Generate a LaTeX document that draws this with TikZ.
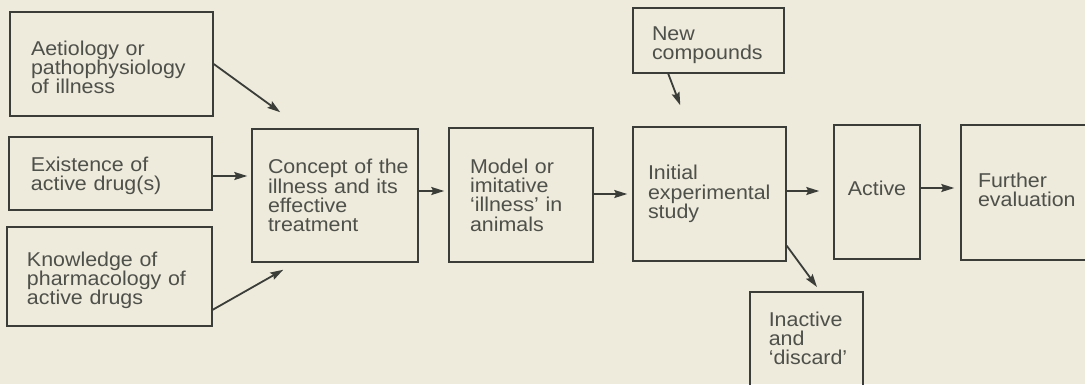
\documentclass[tikz,border=0pt]{standalone}
\usepackage{fontspec}
\setmainfont{Liberation Sans}[FakeStretch=1.07]
\usetikzlibrary{arrows.meta,calc}
\definecolor{bgc}{HTML}{EEEADC}
\definecolor{linec}{HTML}{3A3D38}
\definecolor{txtc}{HTML}{4E504A}
\newcommand\lsk[1]{\leftskip=#1pt\relax}
\begin{document}
\begin{tikzpicture}[x=1pt,y=-1pt,
  bx/.style 2 args={draw=linec, line width=1.5pt, text=txtc,
    font=\fontsize{20}{19.3}\selectfont, minimum width=#1, minimum height=#2,
    text width=#1, inner xsep=0pt, inner ysep=0pt, align=left},
  arr/.style={draw=linec, line width=1.8pt, -{Stealth[length=13pt,width=8pt,inset=2pt]}}]
\fill[bgc] (0,0) rectangle (1085,384);
\useasboundingbox (0,0) rectangle (1085,384);
\clip (0,0) rectangle (1085,384);
% boxes
\node[bx={203pt}{104pt}, text height=21.5pt] (aet) at (111.5,64) {\lsk{21}Aetiology or\\pathophysiology\\of illness\par};
\node[bx={203pt}{73pt}, text height=18.6pt] (exist) at (110.5,173.5) {\lsk{22}Existence of\\active drug(s)\par};
\node[bx={205pt}{99pt}, text height=22.5pt] (know) at (109.5,276.5) {\lsk{20}Knowledge of\\pharmacology of\\active drugs\par};
\node[bx={166pt}{133pt}] (concept) at (335,195.5) {\lsk{16}Concept of the\\illness and its\\effective\\treatment\par};
\node[bx={144pt}{134pt}] (model) at (521,195) {\lsk{21}Model or\\imitative\\`illness' in\\animals\par};
\node[bx={151pt}{65pt}, text height=23.5pt] (newc) at (708.5,40.5) {\lsk{19}New\\compounds\par};
\node[bx={153pt}{134pt}] (init) at (709.5,194) {\lsk{15}Initial\\experimental\\study\par};
\node[bx={86pt}{134pt}, align=center, text depth=8pt] (active) at (877,192) {Active};
\node[bx={131pt}{135pt}, text depth=25.3pt] (further) at (1026.5,192.5) {\lsk{17}Further\\evaluation\par};
\node[bx={113pt}{10pt}, anchor=north west, inner ysep=20pt, text depth=90pt] (inact) at (749,291) {\lsk{19}Inactive\\and\\`discard'\par};
% helper coordinates
\coordinate (c1) at ($(concept.north west)+(29,-16)$);
\coordinate (c3s) at ($(know.south east)+(0,-17)$);
\coordinate (c3) at ($(concept.south west)+(32,7)$);
\coordinate (c8s) at ($(newc.south west)+(36,0)$);
\coordinate (c8e) at ($(init.north west)+(48,-21)$);
\coordinate (c9s) at ($(init.south east)+(0,-16)$);
\coordinate (c9e) at ($(inact.north west)+(68,-4)$);
% connectors
\draw[arr] (aet.east) -- (c1);
\draw[arr, shorten >=4pt] (exist.east |- 0,176) -- (concept.west |- 0,176);
\draw[arr] (c3s) -- (c3);
\draw[arr, shorten >=4pt] (concept.east |- 0,191) -- (model.west |- 0,191);
\draw[arr, shorten >=5pt] (model.east |- 0,194) -- (init.west |- 0,194);
\draw[arr] (c8s) -- (c8e);
\draw[arr, shorten >=14pt] (init.east |- 0,191) -- (active.west |- 0,191);
\draw[arr, shorten >=6pt] (active.east |- 0,188) -- (further.west |- 0,188);
\draw[arr] (c9s) -- (c9e);
\end{tikzpicture}
\end{document}
